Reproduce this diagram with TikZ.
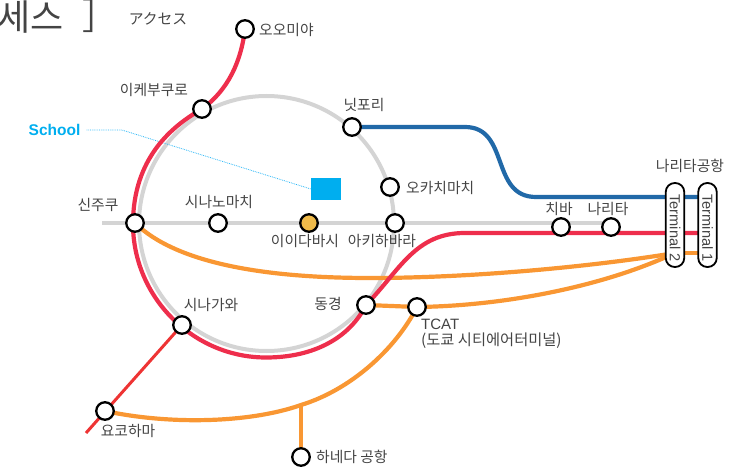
\documentclass[tikz,border=0pt]{standalone}
\usepackage{fontspec}
\setmainfont{Liberation Sans}
\newfontfamily\krfont{Noto Sans CJK KR}
\newfontfamily\jpfont{Noto Sans CJK JP}
\usetikzlibrary{backgrounds}
\definecolor{lnred}{HTML}{EE2E4C}
\definecolor{lnredb}{HTML}{EE3434}
\definecolor{lnorange}{HTML}{F99733}
\definecolor{lnblue}{HTML}{2169A8}
\definecolor{lngray}{HTML}{D4D4D4}
\definecolor{schoolblue}{HTML}{00AEEF}
\definecolor{leader}{HTML}{29B6F6}
\definecolor{txt}{HTML}{444444}
\definecolor{hubfill}{HTML}{F0BB4A}
\tikzset{
  x=1pt,y=-1pt,
  station/.style={circle,draw=black,fill=white,line width=2.3pt,minimum size=17.5pt,inner sep=0pt},
  hub/.style={station,fill=#1},
  terminal/.style={draw=black,fill=white,line width=1.8pt,rounded corners=9pt,minimum width=18.5pt,minimum height=84pt,inner sep=0pt},
  termtext/.style={rotate=-90,font=\fontsize{14.6}{17}\selectfont,text=txt,inner sep=0pt},
  lab/.style={font=\krfont\fontsize{14.8}{17}\selectfont,text=txt,inner sep=0pt},
  lne/.style={line width=4.2pt,line cap=butt},
}
\begin{document}
\begin{tikzpicture}
\useasboundingbox (0,0) rectangle (732,468);
% stations
\node[station] (omiya) at (245,29) {};
\node[station] (ikebukuro) at (202,109) {};
\node[station] (nippori) at (352,127) {};
\node[station] (okachimachi) at (390,187) {};
\node[station] (shinjuku) at (135,223) {};
\node[station] (shinanomachi) at (218,223) {};
\node[hub=hubfill] (iidabashi) at (309,223) {};
\node[station] (akihabara) at (395,223) {};
\node[station] (chiba) at (561,227) {};
\node[station] (narita) at (611,227) {};
\node[station] (tokyo) at (366,305) {};
\node[station] (tcat) at (417,307) {};
\node[station] (shinagawa) at (182,325) {};
\node[station] (yokohama) at (105,411) {};
\node[station] (haneda) at (301,457) {};
\node[terminal] (t2) at (675,225) {};
\node[terminal] (t1) at (707.5,225) {};
\node[termtext] at (675,228) {Terminal 2};
\node[termtext] at (707.5,228) {Terminal 1};
\coordinate (grayw) at (102,223);
\coordinate (hj) at (301,405);
\coordinate (ybot) at (86,433);
\coordinate (leadbend) at (122,130);
\coordinate (shw) at (133,224);
% school
\node[draw=none,fill=schoolblue,minimum width=30pt,minimum height=22pt,inner sep=0pt] (school) at (326,189) {};
\node[font=\bfseries\fontsize{15.5}{17}\selectfont,text=schoolblue,inner sep=0pt] (schoollab) at (54.5,130) {School};
% labels
\node[lab,anchor=west] at (259,29.5) {오오미야};
\node[lab] at (154,89.5) {이케부쿠로};
\node[lab] at (364,105) {닛포리};
\node[lab,anchor=west] at (406,188) {오카치마치};
\node[lab] at (98,205) {신주쿠};
\node[lab] at (219,202) {시나노마치};
\node[lab] at (305,241) {이이다바시};
\node[lab] at (382,241) {아키하바라};
\node[lab] at (559,208.5) {치바};
\node[lab] at (608,208.5) {나리타};
\node[lab] at (690,166) {나리타공항};
\node[lab] at (211,305) {시나가와};
\node[lab] at (328,304) {동경};
\node[font=\fontsize{15}{17}\selectfont,text=txt,inner sep=0pt,anchor=west] at (421,324) {TCAT};
\node[lab,font=\krfont\fontsize{15.3}{17}\selectfont,anchor=west] at (421,341) {(도쿄 시티에어터미널)};
\node[lab] at (128,431) {요코하마};
\node[lab,anchor=west] at (316,457) {하네다 공항};
\node[font=\jpfont\fontsize{14.8}{17}\selectfont,text=txt,inner sep=0pt] at (158,19) {アクセス};
\node[font=\krfont\fontsize{36}{40}\selectfont,text=txt,inner sep=0pt,anchor=west] at (-3,17) {세스};
\node[font=\krfont\fontsize{36}{40}\selectfont,text=txt,inner sep=0pt] at (100,16) {］};
\begin{pgfonlayer}{background}
\node[circle,draw=lngray,line width=4pt,minimum size=255pt,inner sep=0pt] (ring) at (266.5,223.5) {};
\draw[lngray,lne] (grayw) -- (narita.center |- 0,223);
\draw[leader,densely dotted,line width=.8pt] (schoollab.east) ++(6,0) -- (leadbend) -- (school.west);
\draw[lnblue,lne] (nippori.center) -- (465,127) .. controls (510,127) and (490,197) .. (536,197) -- (t1.center |- 0,197);
\draw[lnredb,line width=3pt] (shinagawa.center) -- (ybot);
\draw[lnorange,lne] (hj) -- (haneda.center);
\draw[lnorange,lne] (tcat.center) .. controls (395,350) and (350,390) .. (hj) .. controls (250,423) and (170,425) .. (yokohama.center);
\draw[lnorange,lne] (shinjuku.center) .. controls (175,262) and (260,278) .. (370,278) .. controls (470,278) and (590,267) .. (t2.center |- 0,253);
\draw[lnorange,lne] (tokyo.center) -- (tcat.center) .. controls (500,306) and (600,288) .. (t2.center |- 0,253);
\draw[lnorange,lne] (t2.center |- 0,253) -- (t1.center |- 0,253);
\draw[lnred,lne] (omiya.center) .. controls (241,62) and (228,90) .. (ikebukuro.center)
  .. controls (172,126) and (133,158) .. (shw)
  .. controls (133,297) and (193,357.5) .. (266,357.5)
  .. controls (315,357.5) and (350,337) .. (tokyo.center)
  .. controls (400,270) and (415,233) .. (465,233) -- (t1.center |- 0,233);
\end{pgfonlayer}
\end{tikzpicture}
\end{document}
